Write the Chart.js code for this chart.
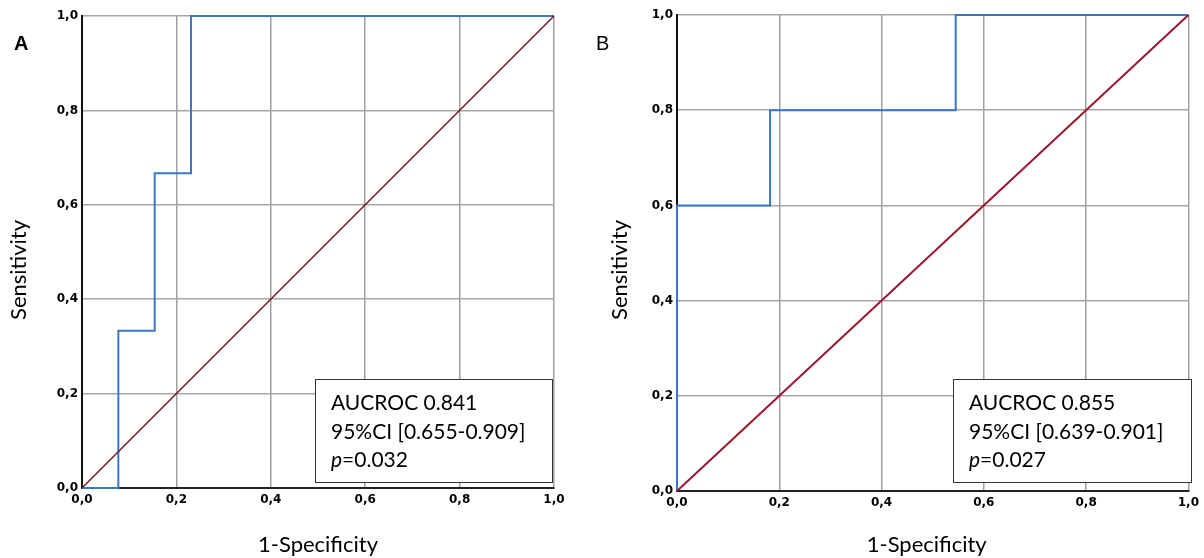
<!DOCTYPE html>
<html>
<head>
<meta charset="utf-8">
<script src="https://cdn.jsdelivr.net/npm/chart.js@4.4.0/dist/chart.umd.min.js"></script>
<style>
  body { margin: 0; background: #fff; }
  #wrap { position: relative; width: 1204px; height: 558px; }
  canvas { position: absolute; top: 0; }
</style>
</head>
<body>
<div id="wrap">
  <canvas id="rocA" width="590" height="558" style="left:0;width:590px;height:558px"></canvas>
  <canvas id="rocB" width="614" height="558" style="left:590px;width:614px;height:558px"></canvas>
</div>
<script>
// Data
const tickLabels = ["0,0", "0,2", "0,4", "0,6", "0,8", "1,0"];

const rocA_fpr = [0, 0.077, 0.077, 0.154, 0.154, 0.231, 0.231, 1];
const rocA_tpr = [0, 0, 0.333, 0.333, 0.667, 0.667, 1, 1];

const rocB_fpr = [0, 0, 0.182, 0.182, 0.545, 0.545, 1];
const rocB_tpr = [0, 0.6, 0.6, 0.8, 0.8, 1, 1];

const refLine = [0, 1];

const statsA = ["AUCROC 0.841", "95%CI [0.655-0.909]", "=0.032"];
const statsB = ["AUCROC 0.855", "95%CI [0.639-0.901]", "=0.027"];

const xTitle = "1-Specificity";
const yTitle = "Sensitivity";

function toPoints(xs, ys) {
    return xs.map((x, i) => ({ x: x, y: ys[i] }));
}

// draws panel letter, axis titles and the stats box
const textPlugin = {
    id: "rocText",
    afterDraw(chart, args, opts) {
        const c = chart.ctx;
        const a = chart.chartArea;
        c.save();
        c.fillStyle = "#000";

        // panel letter
        c.font = opts.letterFont;
        c.textAlign = "left";
        c.textBaseline = "alphabetic";
        c.fillText(opts.letter, opts.letterX, 50);

        // axis titles
        c.font = "22px Lato";
        c.textAlign = "center";
        c.fillText(xTitle, (a.left + a.right) / 2 + opts.xTitleShift, 552);
        c.save();
        c.translate(opts.yTitleX, 270);
        c.rotate(-Math.PI / 2);
        c.fillText(yTitle, 0, 0);
        c.restore();

        // stats box
        const b = opts.box;
        c.fillStyle = "#fff";
        c.fillRect(b.x, b.y, b.w, b.h);
        c.strokeStyle = "#333";
        c.lineWidth = 1;
        c.strokeRect(b.x + 0.5, b.y + 0.5, b.w, b.h);
        c.fillStyle = "#000";
        c.textAlign = "left";
        c.font = "21px Lato";
        const tx = b.x + 16;
        c.fillText(opts.lines[0], tx, b.y + 31);
        c.fillText(opts.lines[1], tx, b.y + 60);
        c.font = "italic 21px Lato";
        c.fillText("p", tx, b.y + 88);
        const pw = c.measureText("p").width;
        c.font = "21px Lato";
        c.fillText(opts.lines[2], tx + pw, b.y + 88);
        c.restore();
    }
};

function makeChart(id, fpr, tpr, diagColor, diagWidth, layout, text) {
    const ctx = document.getElementById(id).getContext("2d");
    return new Chart(ctx, {
        type: "scatter",
        data: {
            datasets: [{
                data: toPoints(refLine, refLine),
                showLine: true,
                borderColor: diagColor,
                borderWidth: diagWidth,
                pointRadius: 0,
                clip: 4,
                order: 0
            }, {
                data: toPoints(fpr, tpr),
                showLine: true,
                borderColor: "#3a78c6",
                borderWidth: 2,
                pointRadius: 0,
                clip: 4,
                order: 1
            }]
        },
        options: {
            responsive: false,
            animation: false,
            events: [],
            layout: { padding: layout.padding },
            plugins: {
                legend: { display: false },
                tooltip: { enabled: false },
                rocText: text
            },
            scales: {
                x: {
                    type: "linear",
                    min: 0,
                    max: 1,
                    afterFit: s => { s.height = layout.xHeight; },
                    afterBuildTicks: s => { s.ticks = tickLabels.map((t, i) => ({ value: i * 0.2 })); },
                    ticks: {
                        callback: (v, i) => tickLabels[i],
                        padding: 5,
                        maxRotation: 0,
                        color: "#000",
                        font: { family: "DejaVu Sans", size: 12, weight: "bold" }
                    },
                    grid: { color: "#a0a0a0", lineWidth: 1.5, drawTicks: false },
                    border: { color: "#222", width: 2 }
                },
                y: {
                    type: "linear",
                    min: 0,
                    max: 1,
                    afterFit: s => { s.width = layout.yWidth; },
                    afterBuildTicks: s => { s.ticks = tickLabels.map((t, i) => ({ value: i * 0.2 })); },
                    ticks: {
                        callback: (v, i) => tickLabels[i],
                        padding: 4,
                        color: "#000",
                        font: { family: "DejaVu Sans", size: 12, weight: "bold" }
                    },
                    grid: { color: "#a6a6a6", lineWidth: 1.5, drawTicks: false },
                    border: { color: "#111", width: 2 }
                }
            }
        },
        plugins: [textPlugin]
    });
}

makeChart("rocA", rocA_fpr, rocA_tpr, "#6a1622", 1.5,
    { padding: { top: 16, right: 36, left: 0, bottom: 0 }, xHeight: 70, yWidth: 82 },
    { letter: "A", letterX: 14, letterFont: "bold 20px Arial", xTitleShift: 0, yTitleX: 26,
      box: { x: 315, y: 379, w: 237, h: 103 }, lines: statsA });

makeChart("rocB", rocB_fpr, rocB_tpr, "#9c1630", 2,
    { padding: { top: 15, right: 15, left: 0, bottom: 0 }, xHeight: 67, yWidth: 87 },
    { letter: "B", letterX: 6, letterFont: "20px Arial", xTitleShift: -6, yTitleX: 37,
      box: { x: 363, y: 379, w: 238, h: 103 }, lines: statsB });
</script>
</body>
</html>
